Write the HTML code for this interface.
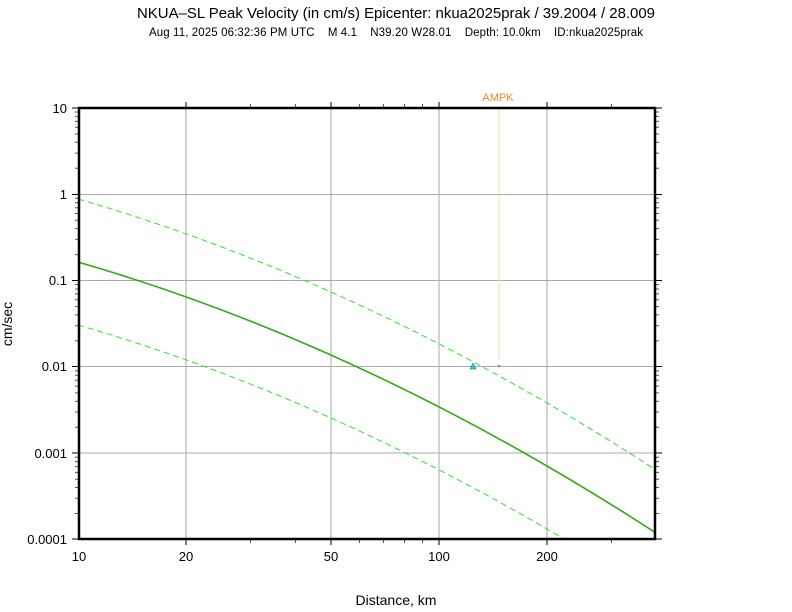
<!DOCTYPE html>
<html><head><meta charset="utf-8"><style>
body{margin:0;background:#fff;}
svg{display:block;font-family:"Liberation Sans",sans-serif;}
</style></head><body>
<svg width="792" height="612" viewBox="0 0 792 612" xmlns="http://www.w3.org/2000/svg">
<rect width="792" height="612" fill="#fff"/>
<text x="396" y="18" font-size="14.5" text-anchor="middle" textLength="518" lengthAdjust="spacingAndGlyphs">NKUA–SL Peak Velocity (in cm/s) Epicenter: nkua2025prak / 39.2004 / 28.009</text>
<text x="396" y="36" font-size="11.5" text-anchor="middle" xml:space="preserve" style="white-space:pre" textLength="494" lengthAdjust="spacing">Aug 11, 2025 06:32:36 PM UTC    M 4.1    N39.20 W28.01    Depth: 10.0km    ID:nkua2025prak</text>
<defs><clipPath id="c"><rect x="79" y="108" width="576" height="431"/></clipPath></defs>
<g stroke="#aaa" stroke-width="1">
<line x1="186" y1="108" x2="186" y2="539"/><line x1="331" y1="108" x2="331" y2="539"/>
<line x1="439" y1="108" x2="439" y2="539"/><line x1="547" y1="108" x2="547" y2="539"/>
<line x1="79" y1="194.5" x2="655" y2="194.5"/><line x1="79" y1="280.5" x2="655" y2="280.5"/>
<line x1="79" y1="366.5" x2="655" y2="366.5"/><line x1="79" y1="453" x2="655" y2="453"/>
</g>
<line x1="499" y1="108" x2="499" y2="360" stroke="#f8d8a8" stroke-width="1"/>
<g clip-path="url(#c)" fill="none">
<path d="M78,262 Q367,345.5 656,533" stroke="#33aa11" stroke-width="1.6"/>
<path d="M78,199 Q367,282.5 656,470" stroke="#33dd33" stroke-width="1" stroke-dasharray="6,4"/>
<path d="M78,325 Q367,408.5 656,596" stroke="#33dd33" stroke-width="1" stroke-dasharray="6,4"/>
</g>
<polygon points="470,369 476,369 473,363" fill="#33cccc" stroke="#118888" stroke-width="0.6"/>
<circle cx="499" cy="366" r="1.3" fill="#888"/>
<text x="498" y="101" font-size="11" fill="#f08a20" text-anchor="middle">AMPK</text>
<g stroke="#555" stroke-width="1" fill="none">
<path d="M75 112h4M75 116.4h4M75 121.4h4M75 127.2h4M75 134h4M75 142.3h4M75 153.1h4M75 168.3h4
M75 198.3h4M75 202.7h4M75 207.7h4M75 213.5h4M75 220.3h4M75 228.6h4M75 239.4h4M75 254.6h4
M75 284.6h4M75 289h4M75 294h4M75 299.8h4M75 306.6h4M75 314.9h4M75 325.7h4M75 340.9h4
M75 370.9h4M75 375.3h4M75 380.3h4M75 386.1h4M75 392.9h4M75 401.2h4M75 412h4M75 427.2h4
M75 457.2h4M75 461.6h4M75 466.6h4M75 472.4h4M75 479.2h4M75 487.5h4M75 498.3h4M75 513.5h4"/>
<path d="M655 112h4M655 116.4h4M655 121.4h4M655 127.2h4M655 134h4M655 142.3h4M655 153.1h4M655 168.3h4
M655 198.3h4M655 202.7h4M655 207.7h4M655 213.5h4M655 220.3h4M655 228.6h4M655 239.4h4M655 254.6h4
M655 284.6h4M655 289h4M655 294h4M655 299.8h4M655 306.6h4M655 314.9h4M655 325.7h4M655 340.9h4
M655 370.9h4M655 375.3h4M655 380.3h4M655 386.1h4M655 392.9h4M655 401.2h4M655 412h4M655 427.2h4
M655 457.2h4M655 461.6h4M655 466.6h4M655 472.4h4M655 479.2h4M655 487.5h4M655 498.3h4M655 513.5h4"/>
<path d="M250.5 539v4M295.5 539v4M359.5 539v4M383.5 539v4M404.5 539v4M422.5 539v4M611.5 539v4
M250.5 108v-4M295.5 108v-4M359.5 108v-4M383.5 108v-4M404.5 108v-4M422.5 108v-4M611.5 108v-4"/>
</g>
<g stroke="#000" stroke-width="1">
<path d="M72 108h7M72 194.5h7M72 280.5h7M72 366.5h7M72 453h7M72 539h7M655 108h7M655 194.5h7M655 280.5h7M655 366.5h7M655 453h7M655 539h7
M186 539v6M331 539v6M439 539v6M547 539v6M186 108v-6M331 108v-6M439 108v-6M547 108v-6"/>
</g>
<rect x="79" y="108" width="576" height="431" fill="none" stroke="#000" stroke-width="2.5"/>
<g font-size="13" text-anchor="end">
<text x="67" y="113">10</text><text x="67" y="199">1</text><text x="67" y="285">0.1</text>
<text x="67" y="371">0.01</text><text x="67" y="458">0.001</text><text x="67" y="544">0.0001</text>
</g>
<g font-size="13" text-anchor="middle">
<text x="79" y="561">10</text><text x="186" y="561">20</text><text x="331" y="561">50</text>
<text x="439" y="561">100</text><text x="547" y="561">200</text>
</g>
<text x="396" y="605" font-size="14" text-anchor="middle">Distance, km</text>
<text transform="translate(12,324) rotate(-90)" font-size="14" text-anchor="middle">cm/sec</text>
</svg>
</body></html>
